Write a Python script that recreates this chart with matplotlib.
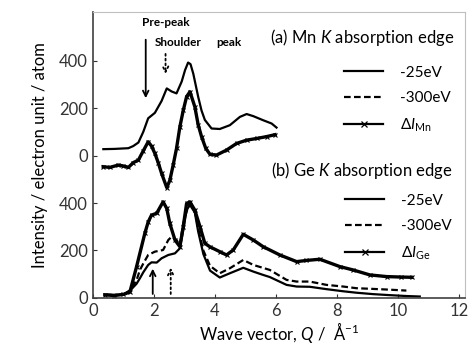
import matplotlib
matplotlib.use('Agg')
import matplotlib.pyplot as plt
from matplotlib.lines import Line2D

plt.rcParams['font.family'] = ['Lato', 'DejaVu Sans']
plt.rcParams['mathtext.fontset'] = 'custom'
plt.rcParams['mathtext.rm'] = 'Lato'
plt.rcParams['mathtext.it'] = 'Lato:italic'

# (a) Mn K edge, values in the upper panel's own units (shifted up by MN_OFFSET)
MN_OFFSET = 600
mn_25_q = [0.34, 0.70, 1.00, 1.16, 1.32, 1.49, 1.65, 1.81, 2.03, 2.25, 2.42, 2.58, 2.74, 2.91, 3.02,
           3.12, 3.20, 3.29, 3.45, 3.56, 3.67, 3.89, 4.16, 4.49, 4.82, 5.04, 5.26, 5.58, 5.86, 6.02]
mn_25 = [27, 28, 30, 31, 40, 55, 100, 157, 180, 230, 283, 270, 262, 312, 360,
         392, 385, 345, 248, 190, 150, 114, 112, 128, 163, 175, 166, 149, 135, 118]

mn_d_q = [0.34, 0.55, 0.83, 1.00, 1.16, 1.32, 1.49, 1.65, 1.81, 1.92, 2.03, 2.14, 2.25, 2.42, 2.52,
          2.63, 2.74, 2.85, 2.96, 3.07, 3.18, 3.34, 3.45, 3.56, 3.70, 3.84, 4.05, 4.38, 4.71, 5.04,
          5.37, 5.70, 5.97]
mn_d = [-47, -50, -40, -44, -50, -30, -19, 20, 58, 40, 9, -30, -75, -135, -105,
        -40, 30, 121, 190, 248, 269, 206, 130, 80, 30, 5, 2, 23, 51, 65,
        72, 80, 88]

# (b) Ge K edge
ge_25_q = [0.39, 0.99, 1.21, 1.43, 1.54, 1.65, 1.81, 1.92, 2.09, 2.25, 2.47, 2.69, 2.85, 2.96, 3.07,
           3.18, 3.34, 3.45, 3.62, 3.84, 4.16, 4.49, 4.93, 5.26, 5.58, 5.80, 6.35, 6.68, 7.11, 7.66,
           8.21, 8.64, 9.19, 9.70, 10.28, 10.72]
ge_25 = [13, 13, 30, 60, 83, 108, 139, 150, 149, 167, 181, 188, 209, 286, 370,
         392, 360, 280, 185, 115, 86, 104, 127, 111, 97, 88, 55, 48, 47, 37,
         28, 22, 16, 12, 8, 6]

ge_300_q = [0.39, 0.99, 1.21, 1.43, 1.54, 1.65, 1.81, 2.03, 2.30, 2.47, 2.58, 2.74, 2.85, 2.96, 3.12,
            3.23, 3.34, 3.45, 3.62, 3.84, 4.16, 4.49, 4.93, 5.26, 5.80, 6.35, 6.68, 7.11, 7.66, 8.21,
            8.64, 9.19, 9.70, 10.28]
ge_300 = [13, 13, 32, 75, 118, 145, 181, 195, 202, 244, 258, 244, 223, 314, 385,
          392, 370, 295, 200, 135, 104, 125, 160, 139, 118, 76, 69, 69, 55, 48,
          41, 38, 35, 31]

ge_d_q = [0.39, 0.70, 1.00, 1.21, 1.43, 1.70, 1.81, 1.92, 2.09, 2.30, 2.42, 2.52, 2.69, 2.85, 2.96,
          3.07, 3.18, 3.34, 3.51, 3.67, 3.84, 4.16, 4.38, 4.60, 4.93, 5.26, 5.58, 6.13, 6.68, 7.00,
          7.44, 8.10, 8.53, 9.08, 9.63, 10.10, 10.45]
ge_d = [13, 10, 15, 25, 132, 272, 320, 349, 357, 405, 377, 314, 244, 216, 300,
        398, 405, 370, 300, 230, 215, 195, 181, 202, 268, 244, 216, 181, 153, 158,
        163, 132, 118, 97, 90, 88, 87]

yticks = [0, 200, 400, 600, 800, 1000]
ytick_labels = ['0', '200', '400', '0', '200', '400']
xticks = [0, 2, 4, 6, 8, 10, 12]

fig = plt.figure(figsize=(4.72, 3.53), dpi=100)
ax = fig.add_axes([0.197, 0.156, 0.788, 0.810])

solid = dict(color='black', lw=1.6)
dashed = dict(color='black', lw=1.6, ls=(0, (3, 1.5)))
delta = dict(color='black', lw=2.4, marker='x', ms=3, mew=0.8)

ax.plot(mn_25_q, [v + MN_OFFSET for v in mn_25], **solid)
ax.plot(mn_d_q, [v + MN_OFFSET for v in mn_d], **delta)
ax.plot(ge_25_q, ge_25, **solid)
ax.plot(ge_300_q, ge_300, **dashed)
ax.plot(ge_d_q, ge_d, **delta)

ax.set_xlim(0, 12.2)
ax.set_ylim(0, 1205)
ax.set_xticks(xticks)
ax.set_yticks(yticks)
ax.set_yticklabels(ytick_labels)
ax.tick_params(direction='in', length=3, labelsize=12, colors='#333333', top=False, right=False)
for s in ['left', 'bottom']:
    ax.spines[s].set_color('#404040')
    ax.spines[s].set_linewidth(1.2)
for s in ['top', 'right']:
    ax.spines[s].set_color('#bfbfbf')

ax.set_xlabel(r'Wave vector, $\mathit{Q}$ /  Å$^{-1}$', fontsize=12, labelpad=1)
ax.set_ylabel('Intensity / electron unit / atom', fontsize=12, labelpad=8)

# arrows and peak labels
ax.annotate('', xy=(1.73, 830), xytext=(1.73, 1100),
            arrowprops=dict(arrowstyle='->', lw=1.3, color='black'))
ax.annotate('', xy=(2.38, 932), xytext=(2.38, 1040),
            arrowprops=dict(arrowstyle='->', lw=1.3, ls=':', color='black'))
ax.annotate('', xy=(1.96, 135), xytext=(1.96, 5),
            arrowprops=dict(arrowstyle='->', lw=1.3, color='black'))
ax.annotate('', xy=(2.55, 139), xytext=(2.55, 5),
            arrowprops=dict(arrowstyle='->', lw=1.3, ls=':', color='black'))
fig.text(166 / 472, 1 - 23 / 353, 'Pre-peak', fontsize=8.5, fontweight='bold', ha='center', va='center')
fig.text(178 / 472, 1 - 43 / 353, 'Shoulder', fontsize=8.5, fontweight='bold', ha='center', va='center')
fig.text(229 / 472, 1 - 43 / 353, 'peak', fontsize=8.5, fontweight='bold', ha='center', va='center')

fig.text(362 / 472, 1 - 38 / 353, r'(a) Mn $\mathit{K}$ absorption edge', fontsize=12, ha='center', va='center')
fig.text(362 / 472, 1 - 170 / 353, r'(b) Ge $\mathit{K}$ absorption edge', fontsize=12, ha='center', va='center')

def handles(sub):
    return [Line2D([], [], **solid), Line2D([], [], **dashed),
            Line2D([], [], color='black', lw=1.6, marker='x', ms=4, mew=0.9)], \
           ['-25eV', '-300eV', r'$\mathit{\Delta I}_{\mathrm{%s}}$' % sub]

h, l = handles('Mn')
leg_a = fig.legend(h, l, loc='upper left', bbox_to_anchor=(336 / 472, 1 - 58 / 353), frameon=False,
                   fontsize=11, handlelength=2.6, handletextpad=1.1, labelspacing=0.75, borderpad=0,
                   numpoints=1)
h, l = handles('Ge')
fig.legend(h, l, loc='upper left', bbox_to_anchor=(337 / 472, 1 - 186 / 353), frameon=False,
           fontsize=11, handlelength=2.6, handletextpad=1.1, labelspacing=0.75, borderpad=0,
           numpoints=1)

fig.savefig('out.png', dpi=100)
